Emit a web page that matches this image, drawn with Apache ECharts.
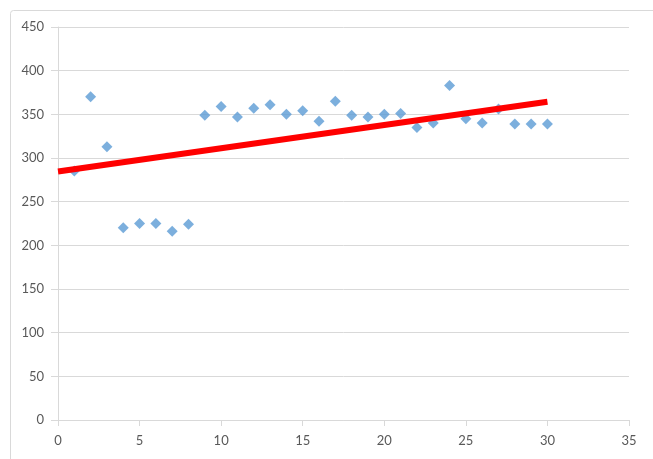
<!DOCTYPE html>
<html>
<head>
<meta charset="utf-8">
<script src="https://cdn.jsdelivr.net/npm/echarts@6/dist/echarts.min.js"></script>
<style>html,body{margin:0;padding:0;background:#fff;}#c{width:653px;height:459px;}</style>
</head>
<body>
<div id="c"></div>
<script>
var xValues = [1,2,3,4,5,6,7,8,9,10,11,12,13,14,15,16,17,18,19,20,21,22,23,24,25,26,27,28,29,30];
var yValues = [285,370,313,220,225,225,216,224,349,359,347,357,361,350,354,342,365,349,347,350,351,335,340,383,345,340,356,339,339,339];
var trendX = [0, 30];
var trendY = [284.5, 364.5];
var xTicks = [0,5,10,15,20,25,30,35];
var yTicks = [0,50,100,150,200,250,300,350,400,450];

var chart = echarts.init(document.getElementById('c'), null, {renderer:'canvas'});
var fontFam = 'Lato, "Open Sans", sans-serif';
chart.setOption({
  animation: false,
  backgroundColor: '#fff',
  graphic: [{
    type: 'rect', z: -10,
    shape: {x: 10.5, y: 10.5, width: 700, height: 500, r: 3},
    style: {fill: 'none', stroke: '#d9d9d9', lineWidth: 1}
  }],
  grid: {left: 58, right: 24, top: 27, bottom: 39, containLabel: false},
  xAxis: {
    type: 'value', min: xTicks[0], max: xTicks[xTicks.length-1], interval: 5,
    axisLine: {show: true, onZero: false, lineStyle: {color: '#d9d9d9', width: 1}},
    axisTick: {show: true, length: 6, lineStyle: {color: '#d9d9d9'}},
    axisLabel: {color: '#595959', fontSize: 13, fontFamily: fontFam, margin: 14},
    splitLine: {show: false}
  },
  yAxis: {
    type: 'value', min: yTicks[0], max: yTicks[yTicks.length-1], interval: 50,
    axisLine: {show: true, onZero: false, lineStyle: {color: '#d9d9d9', width: 1}},
    axisTick: {show: true, length: 7, lineStyle: {color: '#d9d9d9'}},
    axisLabel: {color: '#595959', fontSize: 13, fontFamily: fontFam, margin: 14},
    splitLine: {show: true, lineStyle: {color: '#d9d9d9', width: 1}}
  },
  series: [{
    type: 'scatter',
    data: xValues.map(function(x,i){return [x, yValues[i]];}),
    symbol: 'diamond', symbolSize: 11,
    itemStyle: {color: '#5B9BD5'},
    z: 2
  }, {
    type: 'line',
    data: trendX.map(function(x,i){return [x, trendY[i]];}),
    symbol: 'none',
    lineStyle: {color: '#ff0000', width: 6},
    z: 3
  }]
});
</script>
</body>
</html>
